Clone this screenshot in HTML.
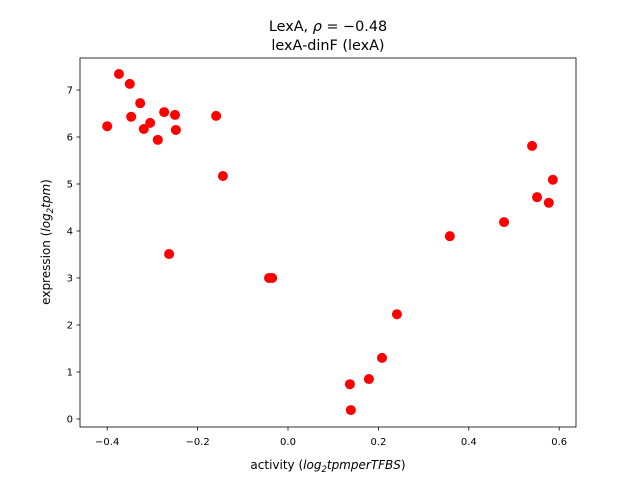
<!DOCTYPE html>
<html><head><meta charset="utf-8"><style>
body{margin:0;background:#fff;font-family:"Liberation Sans","DejaVu Sans",sans-serif}
text{font-family:"DejaVu Sans","Liberation Sans",sans-serif}
</style></head><body>
<svg id="chart" width="640" height="480" xmlns="http://www.w3.org/2000/svg">
<rect width="640" height="480" fill="#fff"/>
<text x="328" y="31" text-anchor="middle" font-size="14.4">LexA, <tspan font-style="italic">ρ</tspan> = −0.48</text>
<text x="328" y="50" text-anchor="middle" font-size="14.4">lexA-dinF (lexA)</text>
<g id="marks"></g>
<rect x="80" y="58" width="496" height="369" fill="none" stroke="#000" stroke-width="0.8"/>
<g id="xticks"></g><g id="yticks"></g>
<text x="328" y="469" text-anchor="middle" font-size="12">activity (<tspan font-style="italic">log</tspan><tspan font-style="italic" font-size="8.5" dy="3">2</tspan><tspan font-style="italic" dy="-3">tpmperTFBS</tspan>)</text>
<text transform="translate(50,242) rotate(-90)" text-anchor="middle" font-size="12">expression (<tspan font-style="italic">log</tspan><tspan font-style="italic" font-size="8.5" dy="3">2</tspan><tspan font-style="italic" dy="-3">tpm</tspan>)</text>
</svg>
<script>
const xValues=[-0.374,-0.350,-0.400,-0.347,-0.327,-0.319,-0.305,-0.288,-0.274,-0.250,-0.248,-0.159,-0.144,-0.263,-0.042,-0.035,0.137,0.139,0.179,0.208,0.241,0.358,0.478,0.540,0.551,0.577,0.586];
const yValues=[7.34,7.13,6.23,6.43,6.72,6.17,6.30,5.94,6.53,6.47,6.15,6.45,5.17,3.51,3.00,3.00,0.74,0.19,0.85,1.30,2.23,3.89,4.19,5.81,4.72,4.60,5.09];
const xTicks=[-0.4,-0.2,0.0,0.2,0.4,0.6];
const xTickLabels=["−0.4","−0.2","0.0","0.2","0.4","0.6"];
const yTicks=[0,1,2,3,4,5,6,7];
const NS="http://www.w3.org/2000/svg";
function sx(v){return 288+v*452;}
function sy(v){return 419-v*47;}
function mk(t,a){const e=document.createElementNS(NS,t);for(const k in a)e.setAttribute(k,a[k]);return e;}
const marks=document.getElementById('marks');
xValues.forEach((x,i)=>{const c=mk('circle',{cx:sx(x),cy:sy(yValues[i]),r:5,fill:'#ff0000'});


marks.appendChild(c);});
const xt=document.getElementById('xticks');
xTicks.forEach((v,i)=>{const l=mk('line',{x1:sx(v),x2:sx(v),y1:427,y2:430.5,stroke:'#000','stroke-width':0.8});


xt.appendChild(l);
const t=mk('text',{x:sx(v),y:445,'text-anchor':'middle','font-size':10});t.textContent=xTickLabels[i];


xt.appendChild(t);});
const yt=document.getElementById('yticks');
yTicks.forEach(v=>{const l=mk('line',{x1:76.5,x2:80,y1:sy(v),y2:sy(v),stroke:'#000','stroke-width':0.8});


yt.appendChild(l);
const t=mk('text',{x:73,y:sy(v)+3.5,'text-anchor':'end','font-size':10});t.textContent=String(v);


yt.appendChild(t);});
</script>
</body></html>
